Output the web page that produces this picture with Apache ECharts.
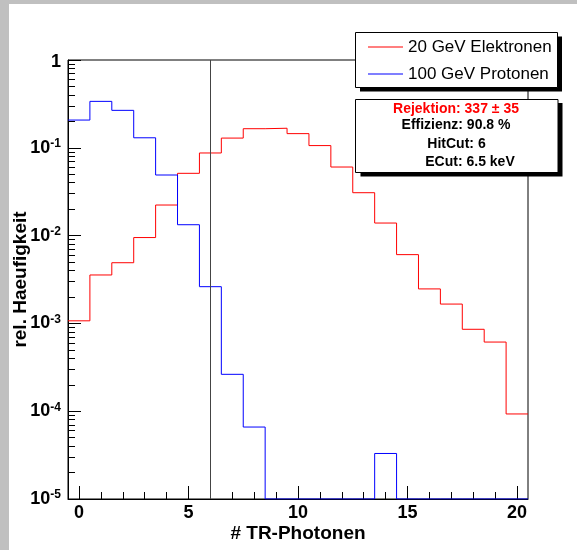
<!DOCTYPE html>
<html><head><meta charset="utf-8">
<script src="https://cdn.jsdelivr.net/npm/echarts@6/dist/echarts.min.js"></script>
<style>html,body{margin:0;padding:0;background:#fff}#c{width:577px;height:550px}</style>
</head><body><div id="c"></div><script>
// ---- data ----
const binCenters = [0,1,2,3,4,5,6,7,8,9,10,11,12,13,14,15,16,17,18,19,20];
const electrons = [0.00107,0.00356,0.00491,0.0095,0.0223,0.0512,0.0873,0.129,0.165,0.167,0.145,0.106,0.0604,0.0308,0.0139,0.00607,0.00247,0.00166,0.000857,0.000613,0.000093];
const protons = [0.207,0.338,0.267,0.130,0.049,0.0133,0.00262,0.000263,0.000066,0,0,0,0,0,0.000033,0,0,0,0,0,0];
const seriesNames = ['20 GeV Elektronen','100 GeV Protonen'];
const xMajorTicks = [0,5,10,15,20];
const xMinorTicks = [0,1,2,3,4,5,6,7,8,9,10,11,12,13,14,15,16,17,18,19,20];
const yDecades = [1e-5,1e-4,1e-3,1e-2,1e-1,1];
const hitCut = 6;
const statsLines = ['Rejektion: 337 \u00b1 35','Effizienz: 90.8 %','HitCut: 6','ECut: 6.5 keV'];
const xTitle = '# TR-Photonen';
const yTitle = 'rel. Haeufigkeit';

const yMin = 1e-5, yMax = 1;
const yMinor = [];
for (let d = 0; d < yDecades.length - 1; d++) for (let m = 2; m <= 9; m++) yMinor.push(+(m * yDecades[d]).toPrecision(3));

function steps(vals) {
  const out = [];
  vals.forEach((v, i) => {
    const y = v > 0 ? v : yMin;
    out.push([binCenters[i] - 0.5, y]);
    out.push([binCenters[i] + 0.5, y]);
  });
  return out;
}

const FONT = '"Liberation Sans", Arial, Helvetica, sans-serif';
const chart = echarts.init(document.getElementById('c'), null, {renderer: 'canvas'});

const opt = {
  animation: false,
  backgroundColor: '#fff',
  grid: {left: 68, right: 49, top: 60, bottom: 51, show: true, borderColor: '#000', borderWidth: 1, containLabel: false, outerBoundsMode: 'none'},
  xAxis: [{
    type: 'value', min: -0.5, max: 20.5,
    name: xTitle, nameLocation: 'middle', nameGap: 25, nameMoveOverlap: false,
    nameTextStyle: {fontFamily: FONT, fontWeight: 'bold', fontSize: 19, color: '#000'},
    axisLine: {show: true, onZero: false, lineStyle: {color: '#000', width: 1}},
    axisTick: {show: true, inside: true, length: 13, customValues: xMajorTicks, lineStyle: {color: '#000'}},
    axisLabel: {show: true, customValues: xMajorTicks, margin: 5, fontFamily: FONT, fontWeight: 'bold', fontSize: 18, color: '#000'},
    splitLine: {show: false}
  }, {
    type: 'value', min: -0.5, max: 20.5, position: 'bottom', gridIndex: 0,
    axisLine: {show: false, onZero: false},
    axisTick: {show: true, inside: true, length: 7, customValues: xMinorTicks, lineStyle: {color: '#000'}},
    axisLabel: {show: false},
    splitLine: {show: false}
  }],
  yAxis: [{
    type: 'log', logBase: 10, min: yMin, max: yMax,
    name: yTitle, nameLocation: 'middle', nameGap: 38, nameRotate: 90, nameMoveOverlap: false,
    nameTextStyle: {fontFamily: FONT, fontWeight: 'bold', fontSize: 19, color: '#000'},
    axisLine: {show: true, onZero: false, lineStyle: {color: '#000', width: 1}},
    axisTick: {show: true, inside: true, length: 13, customValues: yDecades, lineStyle: {color: '#000'}},
    axisLabel: {
      show: true, customValues: yDecades, margin: 7,
      formatter: function (v) {
        const e = Math.round(Math.log10(v));
        if (e === 0) return '{one|1}';
        return '{b|10}{s|' + e + '}';
      },
      rich: {
        one: {fontFamily: FONT, fontWeight: 'bold', fontSize: 18, color: '#000', padding: [5, 0, 0, 0]},
        b: {fontFamily: FONT, fontWeight: 'bold', fontSize: 18, color: '#000'},
        s: {fontFamily: FONT, fontWeight: 'bold', fontSize: 12, color: '#000', verticalAlign: 'top', padding: [0, 0, 8, 0]}
      }
    },
    splitLine: {show: false}
  }, {
    type: 'log', logBase: 10, min: yMin, max: yMax, position: 'left', gridIndex: 0,
    axisLine: {show: false, onZero: false},
    axisTick: {show: true, inside: true, length: 7, customValues: yMinor, lineStyle: {color: '#000'}},
    axisLabel: {show: false},
    splitLine: {show: false}
  }],
  legend: {
    orient: 'vertical', left: 363, top: 33, itemGap: 9,
    itemWidth: 35, itemHeight: 1, icon: 'rect', z: 20,
    textStyle: {fontFamily: FONT, fontSize: 17, color: '#000', lineHeight: 18},
    data: seriesNames
  },
  series: [{
    name: seriesNames[0], type: 'line', xAxisIndex: 0, yAxisIndex: 0,
    data: steps(electrons), showSymbol: false, symbol: 'none',
    lineStyle: {color: '#ff0000', width: 1}, itemStyle: {color: '#ff0000'},
    clip: true, z: 3,
    markLine: {
      silent: true, symbol: 'none', label: {show: false},
      lineStyle: {color: '#444', width: 1, type: 'solid'},
      data: [{xAxis: hitCut}]
    }
  }, {
    name: seriesNames[1], type: 'line', xAxisIndex: 0, yAxisIndex: 0,
    data: steps(protons), showSymbol: false, symbol: 'none',
    lineStyle: {color: '#0000ff', width: 1}, itemStyle: {color: '#0000ff'},
    clip: true, z: 3
  }],
  graphic: [
    {type: 'rect', shape: {x: 0, y: 0, width: 9, height: 550}, style: {fill: '#c0c0c0'}, z: -1, silent: true},
    {type: 'rect', shape: {x: 0, y: 0, width: 577, height: 4}, style: {fill: '#c0c0c0'}, z: -1, silent: true},
    // legend box
    {type: 'rect', shape: {x: 360, y: 36.5, width: 202, height: 55}, style: {fill: '#000'}, z: 10, silent: true},
    {type: 'rect', shape: {x: 355.5, y: 32.5, width: 202, height: 55}, style: {fill: '#fff', stroke: '#000', lineWidth: 1}, z: 11, silent: true},
    // stats box
    {type: 'rect', shape: {x: 360.5, y: 103, width: 202, height: 73.5}, style: {fill: '#000'}, z: 10, silent: true},
    {type: 'rect', shape: {x: 355.5, y: 99.5, width: 202.5, height: 73}, style: {fill: '#fff', stroke: '#000', lineWidth: 1}, z: 11, silent: true},
    {type: 'text', x: 456, y: 109, z: 12, silent: true, style: {text: statsLines[0], fill: '#ff0000', font: 'bold 14px ' + FONT, textAlign: 'center', textVerticalAlign: 'middle'}},
    {type: 'text', x: 456, y: 125.5, z: 12, silent: true, style: {text: statsLines[1], fill: '#000', font: 'bold 14px ' + FONT, textAlign: 'center', textVerticalAlign: 'middle'}},
    {type: 'text', x: 456.5, y: 144, z: 12, silent: true, style: {text: statsLines[2], fill: '#000', font: 'bold 14px ' + FONT, textAlign: 'center', textVerticalAlign: 'middle'}},
    {type: 'text', x: 470, y: 162.5, z: 12, silent: true, style: {text: statsLines[3], fill: '#000', font: 'bold 14px ' + FONT, textAlign: 'center', textVerticalAlign: 'middle'}}
  ]
};
chart.setOption(opt);
</script></body></html>
